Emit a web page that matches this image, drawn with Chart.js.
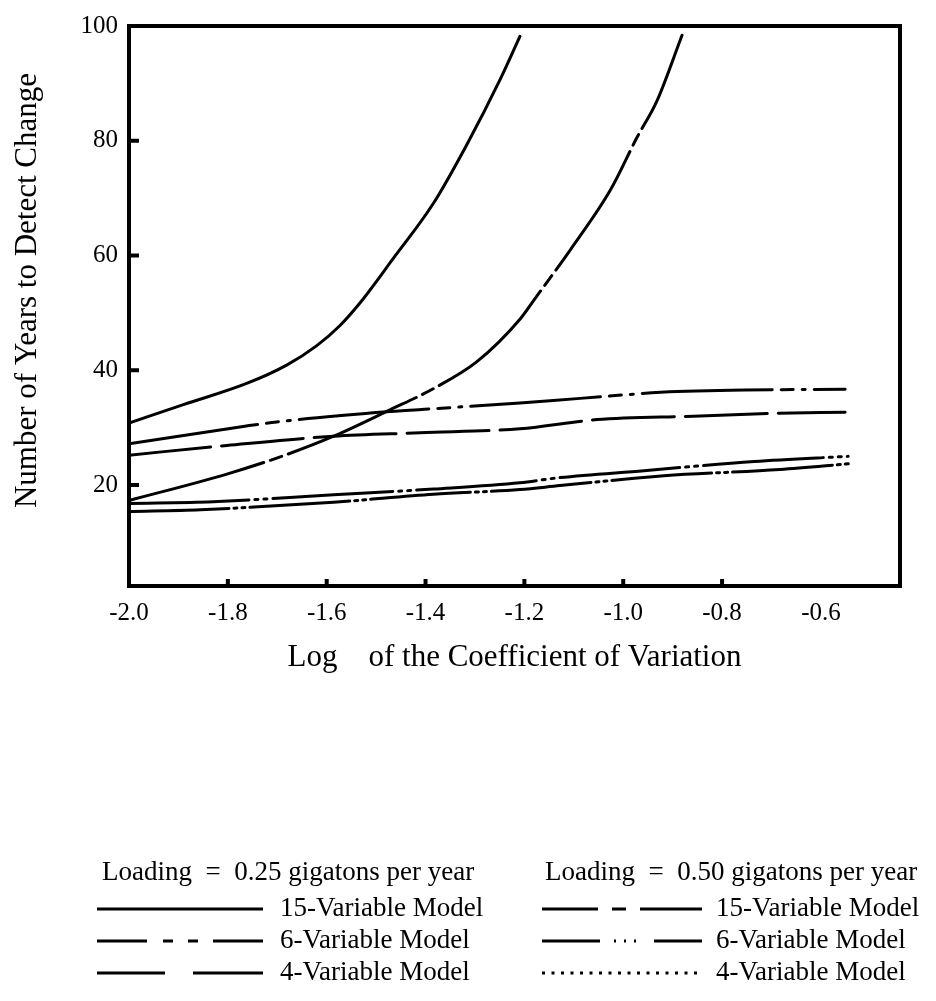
<!DOCTYPE html>
<html><head><meta charset="utf-8">
<script src="https://cdn.jsdelivr.net/npm/chart.js@4/dist/chart.umd.min.js"></script>
<style>html,body{margin:0;padding:0;background:#fff}</style>
</head><body>
<canvas id="c" width="936" height="1001"></canvas>
<script>
// ---- tick labels ----
const xTickValues = [-2.0, -1.8, -1.6, -1.4, -1.2, -1.0, -0.8, -0.6];
const yTickValues = [20, 40, 60, 80, 100];

// ---- series ----
// Loading 0.25, 15-Variable Model
const x25v15 = [-2.0, -1.89, -1.762, -1.681, -1.62, -1.573, -1.532, -1.466, -1.384, -1.316, -1.249, -1.209];
const y25v15 = [30.8, 34.0, 37.7, 40.9, 44.3, 47.8, 51.8, 59.4, 69.1, 79.4, 90.7, 98.2];
// Loading 0.25, 6-Variable Model
const x25v6 = [-2.0, -1.769, -1.701, -1.472, -1.384, -1.209, -1.087, -0.891, -0.551];
const y25v6 = [27.2, 30.2, 31.0, 32.8, 33.3, 34.3, 35.1, 36.3, 36.7];
// Loading 0.25, 4-Variable Model
const x25v4 = [-2.0, -1.802, -1.586, -1.411, -1.209, -1.053, -0.858, -0.696, -0.551];
const y25v4 = [25.2, 26.9, 28.5, 29.1, 29.8, 31.4, 32.0, 32.5, 32.7];
// Loading 0.50, 15-Variable Model
const x50v15 = [-2.0, -1.802, -1.681, -1.586, -1.472, -1.384, -1.296, -1.209, -1.181, -1.107, -1.026, -0.972, -0.932, -0.881];
const y50v15 = [17.3, 21.9, 25.3, 28.5, 33.1, 36.8, 41.5, 48.9, 52.2, 61.0, 71.4, 80.6, 86.9, 98.4];
// Loading 0.50, 6-Variable Model
const x50v6 = [-2.0, -1.83, -1.586, -1.384, -1.209, -1.128, -0.958, -0.735, -0.545];
const y50v6 = [16.8, 17.1, 18.3, 19.3, 20.4, 21.3, 22.5, 24.1, 25.0];
// Loading 0.50, 4-Variable Model
const x50v4 = [-2.0, -1.856, -1.586, -1.384, -1.209, -1.128, -0.918, -0.683, -0.544];
const y50v4 = [15.4, 15.7, 17.0, 18.4, 19.2, 19.9, 21.6, 22.7, 23.7];

const seriesNames = ['15-Variable Model', '6-Variable Model', '4-Variable Model'];
const groupTitles = ['Loading  =  0.25 gigatons per year', 'Loading  =  0.50 gigatons per year'];

const FONT = "'Liberation Serif', 'Times New Roman', serif";

function pts(xs, ys) { return xs.map((x, i) => ({ x: x, y: ys[i] })); }

function ds(label, xs, ys, dash) {
  return {
    label: label, data: pts(xs, ys), borderColor: '#000', borderWidth: 3,
    borderDash: dash, pointRadius: 0, fill: false,
    cubicInterpolationMode: 'monotone', borderCapStyle: 'round'
  };
}

const datasets = [
  ds('0.25 ' + seriesNames[0], x25v15, y25v15, []),
  ds('0.25 ' + seriesNames[1], x25v6, y25v6, [130, 9, 12, 9, 3, 9]),
  ds('0.25 ' + seriesNames[2], x25v4, y25v4, [82, 11]),
  ds('0.50 ' + seriesNames[0], x50v15, y50v15, [140, 7, 12, 7]),
  ds('0.50 ' + seriesNames[1], x50v6, y50v6, [120, 6, 3, 6, 3, 6]),
  ds('0.50 ' + seriesNames[2], x50v4, y50v4, [100, 5, 3, 5, 3, 5])
];

const framePlugin = {
  id: 'frame',
  afterDraw(chart) {
    const ctx = chart.ctx, a = chart.chartArea;
    const xs = chart.scales.x, ys = chart.scales.y;
    ctx.save();
    ctx.strokeStyle = '#000';
    ctx.lineWidth = 4;
    ctx.beginPath();
    ctx.moveTo(a.left - 2, a.top); ctx.lineTo(a.right, a.top);
    ctx.moveTo(a.right, a.top - 2); ctx.lineTo(a.right, a.bottom + 2);
    ctx.stroke();
    // inward tick marks
    ctx.beginPath();
    xTickValues.slice(1, -1).forEach(v => {
      const px = xs.getPixelForValue(v);
      ctx.moveTo(px, a.bottom); ctx.lineTo(px, a.bottom - 7);
    });
    yTickValues.slice(0, -1).forEach(v => {
      const py = ys.getPixelForValue(v);
      ctx.moveTo(a.left, py); ctx.lineTo(a.left + 10, py);
    });
    ctx.stroke();
    ctx.restore();
  }
};

const legendPlugin = {
  id: 'customLegend',
  afterDraw(chart) {
    const ctx = chart.ctx;
    ctx.save();
    ctx.fillStyle = '#000';
    ctx.strokeStyle = '#000';
    ctx.font = '27px ' + FONT;
    ctx.textBaseline = 'middle';
    const cols = [
      { hx: 102, x0: 97, x1: 263, tx: 280, samples: [
        [[0, 166]],
        [[0, 50], [66, 76], [91, 101], [116, 166]],
        [[0, 68], [96, 166]]
      ]},
      { hx: 545, x0: 542, x1: 702, tx: 716, samples: [
        [[0, 56], [70, 84], [98, 160]],
        [[0, 58], [72, 74], [82, 84], [92, 94], [112, 160]],
        'dots'
      ]}
    ];
    const headerY = 873, rowY = [909, 941, 973];
    cols.forEach((c, ci) => {
      ctx.textAlign = 'left';
      ctx.fillText(groupTitles[ci], c.hx, headerY);
      c.samples.forEach((s, si) => {
        const y = rowY[si];
        ctx.lineWidth = 3;
        ctx.beginPath();
        if (s === 'dots') {
          for (let d = 0; d <= c.x1 - c.x0; d += 9.5) {
            ctx.moveTo(c.x0 + d, y); ctx.lineTo(c.x0 + d + 3, y);
          }
        } else {
          s.forEach(seg => { ctx.moveTo(c.x0 + seg[0], y); ctx.lineTo(c.x0 + seg[1], y); });
        }
        ctx.stroke();
        ctx.fillText(seriesNames[si], c.tx, y);
      });
    });
    ctx.restore();
  }
};

new Chart(document.getElementById('c'), {
  type: 'line',
  data: { datasets: datasets },
  plugins: [framePlugin, legendPlugin],
  options: {
    responsive: false,
    devicePixelRatio: 1,
    animation: false,
    layout: { padding: { left: 0, top: 21, right: 36, bottom: 325 } },
    plugins: { legend: { display: false }, tooltip: { enabled: false } },
    scales: {
      x: {
        type: 'linear', position: 'bottom', min: -2.0, max: -0.44,
        grid: { display: false, drawTicks: false },
        border: { display: true, color: '#000', width: 4 },
        afterBuildTicks: s => { s.ticks = xTickValues.map(v => ({ value: v })); },
        afterFit: s => { s.height = 90; },
        ticks: {
          color: '#000', font: { family: FONT, size: 25 }, padding: 12,
          maxRotation: 0, autoSkip: false,
          callback: v => Number(v).toFixed(1)
        },
        title: {
          display: true, text: 'Log    of the Coefficient of Variation',
          color: '#000', font: { family: FONT, size: 31 }, padding: { top: 0, bottom: 0 }
        }
      },
      y: {
        type: 'linear', min: 2.4, max: 100,
        grid: { display: false, drawTicks: false },
        border: { display: true, color: '#000', width: 4 },
        afterBuildTicks: s => { s.ticks = yTickValues.map(v => ({ value: v })); },
        afterFit: s => { s.width = 129; },
        ticks: {
          color: '#000', font: { family: FONT, size: 25 }, padding: 11,
          callback: v => String(v)
        },
        title: {
          display: true, text: '    Number of Years to Detect Change',
          color: '#000', font: { family: FONT, size: 31 }, padding: { top: 9, bottom: 0 }
        }
      }
    }
  }
});
</script>
</body></html>
